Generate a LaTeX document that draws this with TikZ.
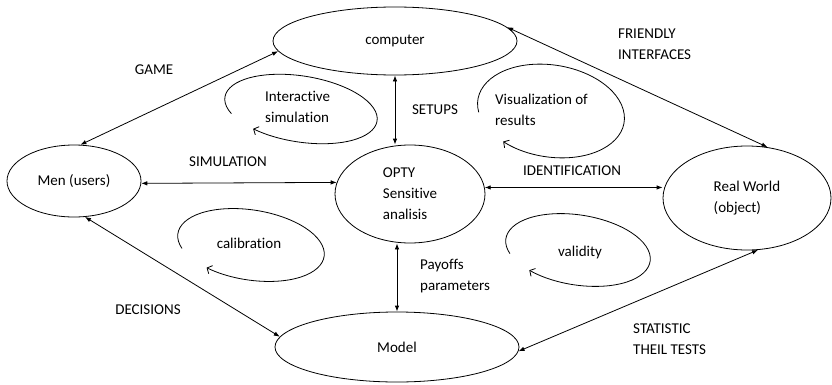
\documentclass[tikz,border=0pt]{standalone}
\usepackage{fontspec}
\setmainfont{Carlito}[Ligatures=NoCommon]
\usetikzlibrary{shapes,arrows.meta,positioning}
\tikzstyle{blob} = [draw,thick,ellipse,inner sep=0,align=left]
\tikzstyle{link} = [<->,thick]
\tikzstyle{turn} = [-{Straight Barb[length=4pt,width=9pt]},thick]
\tikzstyle{tag} = [inner sep=0,align=left]

\begin{document}
\begin{tikzpicture}[x=1pt,y=1pt,>={Latex[length=6pt,width=4.5pt]},font=\fontsize{15}{21}\selectfont]
      \useasboundingbox (0,0) rectangle (832,384);
      % places
      \node[blob,minimum width=244pt,minimum height=68pt] (comp) at (395,343) {computer};
      \node[blob,minimum width=134pt,minimum height=72pt] (men) at (74,203) {Men (users)};
      \node[blob,minimum width=150pt,minimum height=98pt] (opty) at (410,190) {OPTY\\Sensitive\\analisis};
      \node[blob,minimum width=168pt,minimum height=104pt] (real) at (747,186) {Real World\\(object)};
      \node[blob,minimum width=244pt,minimum height=70pt] (model) at (397,37) {Model};
      % links
      \draw[link] (men.80) -- (comp.185);
      \draw[link] (men.358) -- (opty.171);
      \draw[link] (comp.south) -- (comp.south |- opty.north);
      \draw[link] (opty.5) -- (opty.5 -| real.west);
      \draw[link] (comp.7) -- (real.68);
      \draw[link] (men.287) -- (model.175);
      \draw[link] (model.north) -- (model.north |- opty.south);
      \draw[link] (model.358) -- (real.282);
      % labels
      \node[tag] (game) at (154,314) {GAME};
      \node[tag] (simul) at (228,222) {SIMULATION};
      \node[tag] (setups) at (435,274) {SETUPS};
      \node[tag,anchor=west] (friendly) at (618,340) {FRIENDLY\\INTERFACES};
      \node[tag] (ident) at (572,213) {IDENTIFICATION};
      \node[tag] (decis) at (148,74) {DECISIONS};
      \node[tag,anchor=west] (payoffs) at (420,108) {Payoffs\\parameters};
      \node[tag,anchor=west] (stat) at (633,45) {STATISTIC\\THEIL TESTS};
      % loops
      \node[tag,anchor=west] (inter) at (265,277) {Interactive\\simulation};
      \draw[turn,rotate around={-9:(301,275)}] (301,275) ++(208:77 and 33) arc[start angle=208,end angle=-125,x radius=77,y radius=33];
      \node[tag,anchor=west] (visu) at (495,274) {Visualization of\\results};
      \draw[turn,rotate around={-9:(551,273)}] (551,273) ++(196:74 and 46) arc[start angle=196,end angle=-125,x radius=74,y radius=46];
      \node[tag] (calib) at (249,141) {calibration};
      \draw[turn,rotate around={-9:(251,139)}] (251,139) ++(204:74 and 35) arc[start angle=204,end angle=-123,x radius=74,y radius=35];
      \node[tag] (valid) at (580,132) {validity};
      \draw[turn,rotate around={-9:(578,134)}] (578,134) ++(204:73 and 35) arc[start angle=204,end angle=-128,x radius=73,y radius=35];
\end{tikzpicture}
\end{document}
